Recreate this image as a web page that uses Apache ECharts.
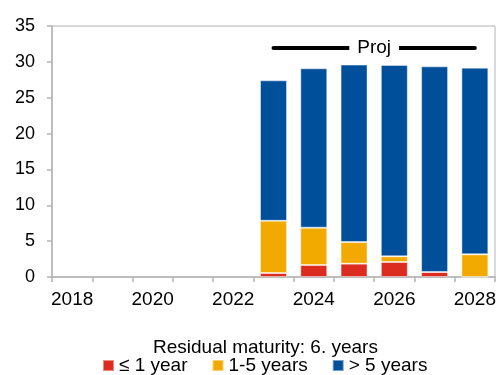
<!DOCTYPE html>
<html>
<head>
<meta charset="utf-8">
<script src="https://cdn.jsdelivr.net/npm/echarts@6/dist/echarts.min.js"></script>
<style>
  html, body { margin: 0; padding: 0; background: #fff; }
  #chart { width: 500px; height: 375px; }
</style>
</head>
<body>
<div id="chart"></div>
<script>
// Debt stock by residual maturity (projection from 2023 onward)
const years = ['2018', '2019', '2020', '2021', '2022', '2023', '2024', '2025', '2026', '2027', '2028'];
const upToOneYear = [null, null, null, null, null, 0.55, 1.67, 1.86, 2.09, 0.70, 0];
const oneToFiveYears = [null, null, null, null, null, 7.29, 5.20, 3.01, 0.79, 0, 3.16];
const overFiveYears = [null, null, null, null, null, 19.59, 22.23, 24.75, 26.69, 28.68, 26.03];
const yTicks = { min: 0, max: 35, interval: 5 };
const projStart = '2023';
const projEnd = '2028';
const projLevel = 32;

const FONT = 'Liberation Sans, Arial, sans-serif';
const AXIS_GREY = '#b4b4b4';

const chart = echarts.init(document.getElementById('chart'), null, { renderer: 'canvas' });

function barSeries(name, data, color) {
  return {
    name: name,
    type: 'bar',
    stack: 'debt',
    data: data,
    barWidth: '67%',
    itemStyle: {
      color: color,
      borderColor: 'rgba(255,255,255,0.45)',
      borderWidth: 1
    },
    emphasis: { disabled: true }
  };
}

const series = [
  barSeries('≤ 1 year', upToOneYear, '#dc2b1f'),
  barSeries('1-5 years', oneToFiveYears, '#f2a900'),
  barSeries('> 5 years', overFiveYears, '#004f9b')
];

// Projection marker drawn across the forecast years
series[2].markLine = {
  silent: true,
  symbol: ['none', 'none'],
  lineStyle: { color: '#000', width: 4, type: 'solid', cap: 'round' },
  label: {
    show: true,
    position: 'middle',
    formatter: 'Proj',
    distance: 0,
    verticalAlign: 'middle',
    color: '#000',
    fontSize: 19,
    fontFamily: FONT,
    backgroundColor: '#fff',
    padding: [0, 8]
  },
  data: [[{ coord: [projStart, projLevel] }, { coord: [projEnd, projLevel] }]]
};

chart.setOption({
  animation: false,
  backgroundColor: '#fff',
  textStyle: { fontFamily: FONT },
  title: {
    text: 'Residual maturity: 6. years',
    left: 153,
    top: 338,
    padding: 0,
    textStyle: { fontSize: 19, fontWeight: 'normal', color: '#000', fontFamily: FONT }
  },
  legend: {
    left: 102,
    top: 356,
    padding: 0,
    icon: 'rect',
    itemWidth: 11,
    itemHeight: 11,
    itemGap: 24,
    textStyle: { fontSize: 19, color: '#000', fontFamily: FONT },
    data: ['≤ 1 year', '1-5 years', '> 5 years']
  },
  grid: {
    left: 52,
    right: 5,
    top: 26,
    bottom: 98,
    show: true,
    borderColor: AXIS_GREY,
    borderWidth: 1,
    containLabel: false
  },
  xAxis: {
    type: 'category',
    data: years,
    axisLine: { lineStyle: { color: AXIS_GREY, width: 1.5 } },
    axisTick: { show: true, interval: 0, length: 5, lineStyle: { color: AXIS_GREY, width: 1.5 } },
    axisLabel: { interval: 1, color: '#000', fontSize: 19, fontFamily: FONT, margin: 13 },
    splitLine: { show: false }
  },
  yAxis: {
    type: 'value',
    min: yTicks.min,
    max: yTicks.max,
    interval: yTicks.interval,
    axisLine: { show: true, lineStyle: { color: AXIS_GREY, width: 1.5 } },
    axisTick: { show: true, length: 5, lineStyle: { color: AXIS_GREY, width: 1.5 } },
    axisLabel: { color: '#000', fontSize: 18, fontFamily: FONT, margin: 17 },
    splitLine: { show: false }
  },
  series: series
});
</script>
</body>
</html>
